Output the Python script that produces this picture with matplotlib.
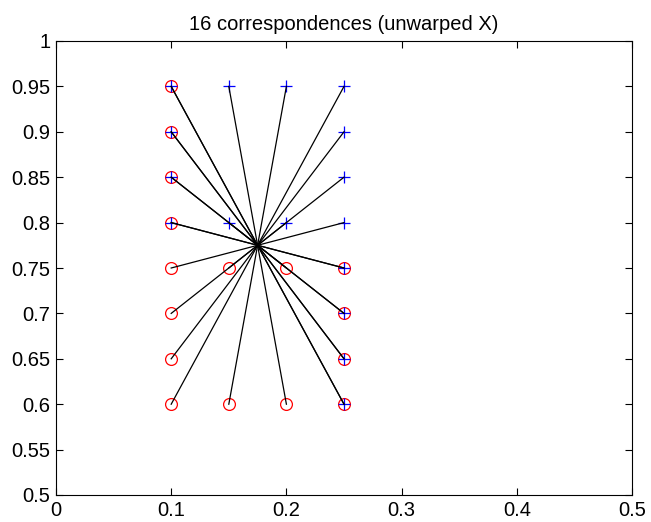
import matplotlib
matplotlib.use("Agg")
import matplotlib.pyplot as plt
import numpy as np

plt.rcParams['font.family'] = ['Liberation Sans', 'DejaVu Sans']

# Source points (red circles)
src_x = [0.10, 0.10, 0.10, 0.10, 0.10, 0.10, 0.10, 0.10,
         0.15, 0.15, 0.20, 0.20, 0.25, 0.25, 0.25, 0.25]
src_y = [0.60, 0.65, 0.70, 0.75, 0.80, 0.85, 0.90, 0.95,
         0.60, 0.75, 0.60, 0.75, 0.60, 0.65, 0.70, 0.75]

# Corresponding points (blue crosses)
dst_x = [0.25, 0.25, 0.25, 0.25, 0.25, 0.25, 0.25, 0.25,
         0.20, 0.20, 0.15, 0.15, 0.10, 0.10, 0.10, 0.10]
dst_y = [0.95, 0.90, 0.85, 0.80, 0.75, 0.70, 0.65, 0.60,
         0.95, 0.80, 0.95, 0.80, 0.95, 0.90, 0.85, 0.80]

x_ticks = [0, 0.1, 0.2, 0.3, 0.4, 0.5]
x_labels = ['0', '0.1', '0.2', '0.3', '0.4', '0.5']
y_ticks = [0.5, 0.55, 0.6, 0.65, 0.7, 0.75, 0.8, 0.85, 0.9, 0.95, 1.0]
y_labels = ['0.5', '0.55', '0.6', '0.65', '0.7', '0.75', '0.8', '0.85', '0.9', '0.95', '1']

fig = plt.figure(figsize=(6.51, 5.22), dpi=100)
ax = fig.add_axes([56 / 651, 1 - 495 / 522, 576 / 651, 454 / 522])

ax.plot(src_x, src_y, 'o', mfc='none', mec='red', ms=8.5, mew=0.9, ls='none')
ax.plot(dst_x, dst_y, '+', color='blue', ms=9, mew=0.9, ls='none')
for sx, sy, dx, dy in zip(src_x, src_y, dst_x, dst_y):
    ax.plot([sx, dx], [sy, dy], color='black', lw=0.9)

ax.set_xlim(0, 0.5)
ax.set_ylim(0.5, 1.0)
ax.set_xticks(x_ticks)
ax.set_xticklabels(x_labels)
ax.set_yticks(y_ticks)
ax.set_yticklabels(y_labels)
ax.tick_params(direction='in', top=True, right=True, length=5, width=0.8,
               labelsize=14.5, pad=4)
for s in ax.spines.values():
    s.set_linewidth(0.8)
ax.set_title('16 correspondences (unwarped X)', fontsize=14.5, pad=8)

fig.savefig('out.png', dpi=100)
